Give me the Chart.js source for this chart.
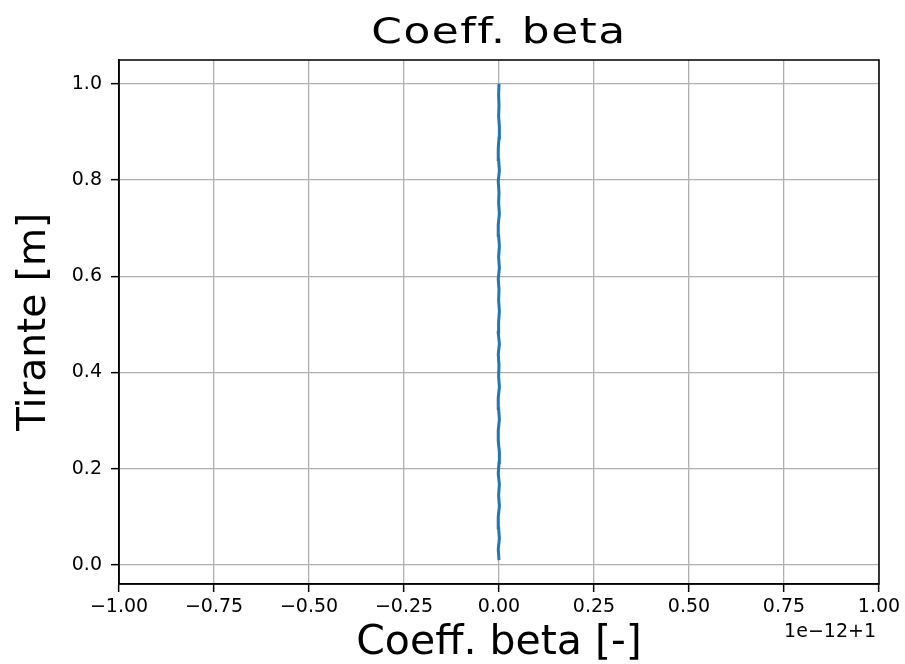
<!DOCTYPE html>
<html>
<head>
<meta charset="utf-8">
<title>Coeff. beta</title>
<script src="https://cdn.jsdelivr.net/npm/chart.js@4.4.1/dist/chart.umd.min.js"></script>
<style>
  html, body { margin: 0; padding: 0; background: #ffffff; }
  #wrap { width: 905px; height: 664px; }
</style>
</head>
<body>
<div id="wrap"><canvas id="chart" width="905" height="664"></canvas></div>
<script>
// Depth (tirante) along the profile, in metres
const tirante = [0.01, 0.0325, 0.055, 0.0775, 0.1, 0.1225, 0.145, 0.1675, 0.19, 0.2125,
                 0.235, 0.2575, 0.28, 0.3025, 0.325, 0.3475, 0.37, 0.3925, 0.415, 0.4375,
                 0.46, 0.4825, 0.505, 0.5275, 0.55, 0.5725, 0.595, 0.6175, 0.64, 0.6625,
                 0.685, 0.7075, 0.73, 0.7525, 0.775, 0.7975, 0.82, 0.8425, 0.865, 0.8875,
                 0.91, 0.9325, 0.955, 0.9775, 1.0];
// Coefficient beta minus 1, in units of 1e-12
const betaOffset = [0.000, -0.002, 0.001, -0.001, -0.002, 0.001, -0.001, 0.001, -0.002, 0.000,
                    0.001, -0.002, -0.002, 0.001, -0.001, -0.002, 0.001, -0.001, 0.000, -0.002,
                    0.001, -0.002, -0.001, 0.001, -0.001, 0.000, -0.002, 0.001, -0.001, 0.001,
                    -0.001, -0.002, 0.001, -0.001, 0.000, -0.002, 0.001, -0.001, -0.002, 0.000,
                    0.001, -0.001, 0.000, -0.001, 0.000];
// Axis ticks
const xTickValues = [-1, -0.75, -0.5, -0.25, 0, 0.25, 0.5, 0.75, 1];
const xTickLabels = ['\u22121.00', '\u22120.75', '\u22120.50', '\u22120.25', '0.00', '0.25', '0.50', '0.75', '1.00'];
const yTickValues = [0, 0.2, 0.4, 0.6, 0.8, 1.0];
const yTickLabels = ['0.0', '0.2', '0.4', '0.6', '0.8', '1.0'];
const chartTitle = 'Coeff. beta';
const offsetLabel = '1e\u221212+1';

const FONT = '"DejaVu Sans", "Liberation Sans", sans-serif';

// Closes the box around the plot, writes the wide title and the axis offset text
const framePlugin = {
  id: 'frame',
  afterDraw(chart) {
    const { ctx, chartArea: a } = chart;
    ctx.save();
    ctx.strokeStyle = '#000000';
    ctx.lineWidth = 1.5;
    ctx.strokeRect(a.left, a.top, a.right - a.left, a.bottom - a.top);

    ctx.fillStyle = '#000000';
    ctx.font = '19px ' + FONT;
    ctx.textAlign = 'right';
    ctx.textBaseline = 'middle';
    ctx.fillText(offsetLabel, a.right - 3, a.bottom + 48);

    ctx.save();
    ctx.translate((a.left + a.right) / 2, a.top - 17);
    ctx.scale(1.22, 1);
    ctx.font = '36px ' + FONT;
    if ('letterSpacing' in ctx) ctx.letterSpacing = '1.2px';
    ctx.textAlign = 'center';
    ctx.textBaseline = 'alphabetic';
    ctx.fillText(chartTitle, 0, 0);
    ctx.restore();

    ctx.restore();
  }
};

const points = tirante.map((y, i) => ({ x: betaOffset[i], y: y }));

new Chart(document.getElementById('chart'), {
  type: 'line',
  data: {
    datasets: [{
      data: points,
      borderColor: '#1f77b4',
      borderWidth: 3,
      pointRadius: 0,
      tension: 0,
      fill: false
    }]
  },
  options: {
    responsive: false,
    devicePixelRatio: 1,
    animation: false,
    layout: { padding: { left: 0, right: 26, top: 60, bottom: 0 } },
    plugins: {
      legend: { display: false },
      tooltip: { enabled: false },
      title: { display: false }
    },
    scales: {
      x: {
        type: 'linear',
        min: -1,
        max: 1,
        afterBuildTicks: (s) => { s.ticks = xTickValues.map(v => ({ value: v })); },
        afterFit: (s) => { s.height = 80; },
        ticks: {
          color: '#000000',
          font: { family: FONT, size: 19 },
          padding: 4,
          maxRotation: 0,
          autoSkip: false,
          callback: (v, i) => xTickLabels[i]
        },
        grid: { color: '#b0b0b0', lineWidth: 1.3, tickColor: '#000000', tickLength: 8, tickWidth: 1.5 },
        border: { display: true, color: '#000000', width: 1.5 },
        title: {
          display: true,
          text: 'Coeff. beta [-]',
          color: '#000000',
          font: { family: FONT, size: 41, lineHeight: 1.0 },
          padding: { top: 0, bottom: 0 }
        }
      },
      y: {
        type: 'linear',
        min: -0.0395,
        max: 1.0495,
        afterBuildTicks: (s) => { s.ticks = yTickValues.map(v => ({ value: v })); },
        afterFit: (s) => { s.width = 119; },
        ticks: {
          color: '#000000',
          font: { family: FONT, size: 19 },
          padding: 9,
          autoSkip: false,
          callback: (v, i) => yTickLabels[i]
        },
        grid: { color: '#b0b0b0', lineWidth: 1.3, tickColor: '#000000', tickLength: 8, tickWidth: 1.5 },
        border: { display: true, color: '#000000', width: 1.5 },
        title: {
          display: true,
          text: 'Tirante [m]',
          color: '#000000',
          font: { family: FONT, size: 39, lineHeight: 1.2 },
          padding: { top: 11, bottom: 0 }
        }
      }
    }
  },
  plugins: [framePlugin]
});
</script>
</body>
</html>
